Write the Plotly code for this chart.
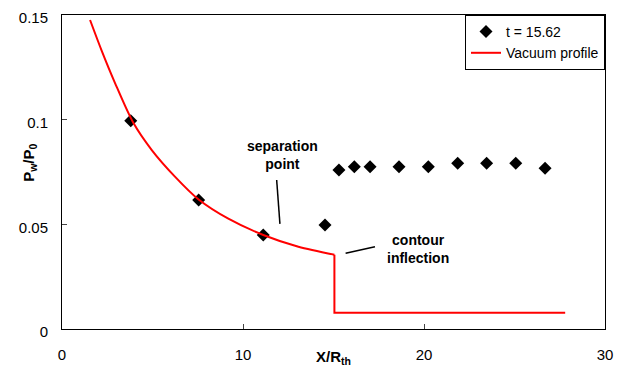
import plotly.graph_objects as go

# Measured data (t = 15.62)
x_meas = [3.8, 7.55, 11.12, 14.53, 15.30, 16.15, 17.02, 18.62, 20.24, 21.86, 23.46, 25.07, 26.69]
y_meas = [0.0995, 0.0616, 0.0449, 0.0497, 0.0760, 0.0775, 0.0775, 0.0775, 0.0775, 0.0792, 0.0792, 0.0792, 0.0768]

# Vacuum profile (smooth part)
x_vac_curve = [1.55, 2.19, 2.93, 3.94, 4.96, 6.24, 7.53, 9.19, 11.12, 13.06, 15.05]
y_vac_curve = [0.1476, 0.1330, 0.1175, 0.0985, 0.0855, 0.0728, 0.0620, 0.0527, 0.0449, 0.0393, 0.0355]
# Vacuum profile (drop after contour inflection)
x_vac_step = [15.05, 15.05, 27.8]
y_vac_step = [0.0355, 0.0078, 0.0078]

x_ticks = [0, 10, 20, 30]
y_ticks = [0, 0.05, 0.1, 0.15]
y_tick_labels = ["0", "0.05", "0.1", "0.15"]

FONT = "Liberation Sans, Arial, sans-serif"

fig = go.Figure()
fig.add_trace(go.Scatter(
    x=x_meas, y=y_meas, mode="markers", name="t = 15.62",
    marker=dict(symbol="diamond", size=10, color="black"),
))
fig.add_trace(go.Scatter(
    x=x_vac_curve, y=y_vac_curve, mode="lines", name="Vacuum profile",
    line=dict(color="#ff0000", width=2, shape="spline", smoothing=0.8),
    legendgroup="vac",
))
fig.add_trace(go.Scatter(
    x=x_vac_step, y=y_vac_step, mode="lines", name="Vacuum profile",
    line=dict(color="#ff0000", width=2),
    legendgroup="vac", showlegend=False,
))

# annotation leader lines
fig.add_shape(type="line", x0=11.86, y0=0.0712, x1=12.04, y1=0.0502,
              line=dict(color="black", width=1.5))
fig.add_shape(type="line", x0=15.67, y0=0.0362, x1=17.29, y1=0.0393,
              line=dict(color="black", width=1.5))

fig.add_annotation(x=12.18, y=0.0831, text="<b>separation<br>point</b>",
                   showarrow=False, font=dict(size=14, color="black", family=FONT))
fig.add_annotation(x=19.67, y=0.0382, text="<b>contour<br>inflection</b>",
                   showarrow=False, font=dict(size=14, color="black", family=FONT))

# axis titles (placed like the reference: x title on the tick-label row)
fig.add_annotation(xref="paper", yref="paper", x=0.5, y=-0.092, yanchor="middle",
                   text="<b>X/R<sub>th</sub></b>", showarrow=False,
                   font=dict(size=15, color="black", family=FONT))
fig.add_annotation(xref="paper", yref="paper", x=-0.059, y=0.529, xanchor="center",
                   yanchor="middle", textangle=-90,
                   text="<b>P<sub>w</sub>/P<sub>0</sub></b>", showarrow=False,
                   font=dict(size=15, color="black", family=FONT))

# page body has an 8px margin, so the figure is sized/shifted to compensate
fig.update_layout(
    width=615, height=359,
    margin=dict(l=54, r=18, t=7, b=38),
    paper_bgcolor="white", plot_bgcolor="white",
    font=dict(family=FONT, size=15, color="black"),
    showlegend=True,
    legend=dict(x=1, y=1, xanchor="right", yanchor="top",
                bordercolor="black", borderwidth=1, bgcolor="white",
                font=dict(size=14), tracegroupgap=0, itemwidth=30),
)
fig.update_xaxes(
    range=[0, 30], tickvals=x_ticks, ticks="inside", ticklen=5,
    showgrid=False, zeroline=False, showline=True, linecolor="black", linewidth=1,
    mirror=True, ticklabelstandoff=12, automargin=False, ticklabeloverflow="allow",
)
fig.update_yaxes(
    range=[0, 0.15], tickvals=y_ticks, ticktext=y_tick_labels, ticks="inside", ticklen=5,
    showgrid=False, zeroline=False, showline=True, linecolor="black", linewidth=1,
    mirror=True, ticklabelstandoff=10, ticklabelshift=3,
    automargin=False, ticklabeloverflow="allow",
)

fig.write_html("out.html")
